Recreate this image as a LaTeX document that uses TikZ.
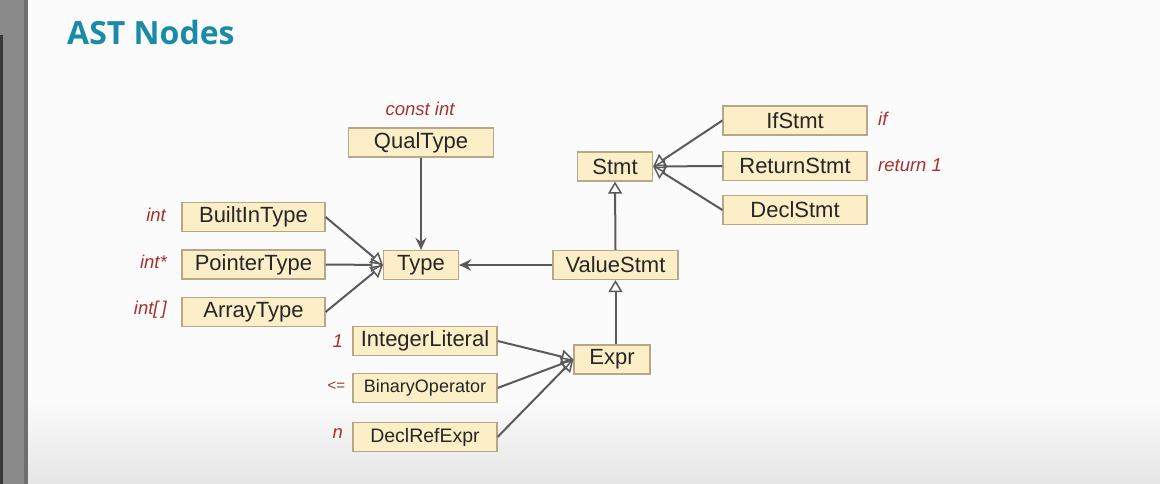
\documentclass[tikz,border=0pt]{standalone}
\usepackage{fontspec}
\setmainfont{Liberation Sans}
\newfontfamily\titlefont{Open Sans}
\usetikzlibrary{arrows.meta}
\definecolor{bgwhite}{HTML}{FBFBFB}
\definecolor{bgbottom}{HTML}{E6E6E6}
\definecolor{stripgray}{HTML}{8A8A8A}
\definecolor{stripdark}{HTML}{6E6E6E}
\definecolor{stripblack}{HTML}{3A3A3A}
\definecolor{titleblue}{HTML}{1A8BA6}
\definecolor{boxfill}{HTML}{FCEFC8}
\definecolor{boxborder}{HTML}{B4A888}
\definecolor{textdark}{HTML}{262626}
\definecolor{lblred}{HTML}{A8302E}
\definecolor{linegray}{HTML}{5A5A5A}
\begin{document}
\begin{tikzpicture}[x=1pt,y=-1pt,
  box/.style={draw=boxborder, fill=boxfill, line width=1.2pt, minimum height=29pt,
    inner sep=0pt, text=textdark, font=\fontsize{22}{24}\selectfont},
  lbl/.style={font=\fontsize{18.5}{20}\selectfont\itshape, text=lblred, inner sep=0pt},
  inherit/.style={draw=linegray, line width=2pt,
    -{Triangle[open,length=12pt,width=14pt,line width=1.5pt]}},
  uses/.style={draw=linegray, line width=2pt,
    -{Stealth[length=12pt,width=11pt,inset=4pt]}}]
% background
\useasboundingbox (0,0) rectangle (1160,484);
\fill[bgwhite] (0,0) rectangle (1160,484);
\shade[top color=bgwhite, bottom color=bgbottom] (28,400) rectangle (1160,484);
\fill[stripgray] (0,0) rectangle (24,484);
\fill[stripdark] (24,0) rectangle (28,484);
\fill[stripblack] (0,35) rectangle (3,484);
% title
\node[anchor=base west, inner sep=0pt, text=titleblue,
  font=\titlefont\bfseries\fontsize{32}{36}\selectfont] (title) at (67,45) {AST Nodes};
% nodes
\node[box, minimum width=145pt] (qual) at (421,142.5) {QualType};
\node[box, minimum width=143pt] (builtin) at (253.5,217) {BuiltInType};
\node[box, minimum width=143pt] (pointer) at (253.5,264.5) {PointerType};
\node[box, minimum width=143pt] (array) at (253.5,312) {ArrayType};
\node[box, minimum width=75pt] (type) at (421,265) {Type};
\node[box, minimum width=125pt] (value) at (615.5,265) {ValueStmt};
\node[box, minimum width=75pt] (stmt) at (615,166.5) {Stmt};
\node[box, minimum width=144pt] (ifs) at (795,120.5) {IfStmt};
\node[box, minimum width=144pt] (ret) at (795,166) {ReturnStmt};
\node[box, minimum width=144pt] (decl) at (795,210) {DeclStmt};
\node[box, minimum width=144pt] (intlit) at (425,341) {IntegerLiteral};
\node[box, minimum width=144pt, font=\fontsize{18}{20}\selectfont] (binop) at (425,388) {BinaryOperator};
\node[box, minimum width=144pt, font=\fontsize{19.5}{22}\selectfont] (declref) at (425,437) {DeclRefExpr};
\node[box, minimum width=76pt] (expr) at (612,359.5) {Expr};
% labels
\node[lbl, anchor=south] (lconst) at (420,116) {const int};
\node[lbl, anchor=east] (lint) at (166,215) {int};
\node[lbl, anchor=east] (lptr) at (167,262) {int*};
\node[lbl, anchor=east] (larr) at (167,310) {int[\,]};
\node[lbl, anchor=west] (lif) at (878,119) {if};
\node[lbl, anchor=west] (lret) at (878,165) {return 1};
\node[lbl, anchor=east] (lone) at (343,341) {1};
\node[lbl, anchor=east, font=\fontsize{15}{16}\selectfont\itshape] (lle) at (345,386) {<=};
\node[lbl, anchor=east] (ln) at (343,434) {n};
% connectors
\draw[uses] (qual.south) -- (type.north);
\draw[uses] (value.west) -- (type.east);
\draw[inherit] (builtin.east) -- (type.west);
\draw[inherit] (pointer.east) -- (type.west);
\draw[inherit] (array.east) -- (type.west);
\draw[inherit] (value.north) -- (stmt.south);
\draw[inherit] (expr.north -| value.south) -- (value.south);
\draw[inherit] (ifs.west) -- (stmt.east);
\draw[inherit] (ret.west) -- (stmt.east);
\draw[inherit] (decl.west) -- (stmt.east);
\draw[inherit] (intlit.east) -- (expr.west);
\draw[inherit] (binop.east) -- (expr.west);
\draw[inherit] (declref.east) -- (expr.west);
\end{tikzpicture}
\end{document}
